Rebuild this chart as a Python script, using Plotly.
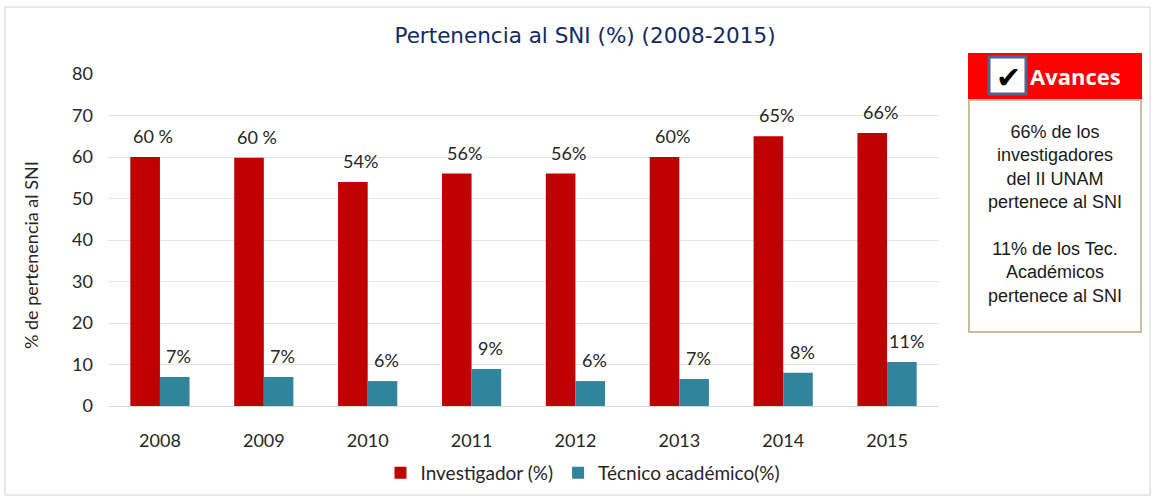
import plotly.graph_objects as go

years = ["2008", "2009", "2010", "2011", "2012", "2013", "2014", "2015"]
investigador = [60, 59.8, 54, 56, 56, 60, 65, 65.8]
tecnico = [7, 7, 6, 8.9, 6, 6.5, 8, 10.6]
inv_labels = ["60 %", "60 %", "54%", "56%", "56%", "60%", "65%", "66%"]
tec_labels = ["7%", "7%", "6%", "9%", "6%", "7%", "8%", "11%"]
y_ticks = [0, 10, 20, 30, 40, 50, 60, 70, 80]

RED = "#C00000"
TEAL = "#31849B"
FONT = "Lato, 'Open Sans', sans-serif"
TXT = "#262626"

fig = go.Figure()
fig.add_trace(go.Bar(x=years, y=investigador, name="Investigador (%)",
                     marker=dict(color=RED, line=dict(width=0))))
fig.add_trace(go.Bar(x=years, y=tecnico, name="Técnico académico(%)",
                     marker=dict(color=TEAL, line=dict(width=0))))

annotations = []
for i, yr in enumerate(years):
    annotations.append(dict(x=i, y=investigador[i], text=inv_labels[i], showarrow=False,
                            xref="x", yref="y", xshift=-7, yshift=21,
                            font=dict(size=18, color=TXT, family=FONT)))
    annotations.append(dict(x=i, y=tecnico[i], text=tec_labels[i], showarrow=False,
                            xref="x", yref="y", xshift=19, yshift=21,
                            font=dict(size=18, color=TXT, family=FONT)))

PW = 831.0
PH = 332.0
def px(x):
    return (x - 108) / PW
def py(y):
    return (406 - y) / PH

# y-axis title as annotation for exact placement
annotations.append(dict(xref="paper", yref="paper", x=px(31), y=py(255), xanchor="center", yanchor="middle",
                        text="% de pertenencia al SNI", textangle=-90, showarrow=False,
                        font=dict(size=18, color=TXT, family=FONT)))

# Side box texts
annotations.append(dict(xref="paper", yref="paper", x=px(1075), y=py(76), xanchor="center", yanchor="middle",
                        text="<b>Avances</b>", showarrow=False,
                        font=dict(size=22, color="white", family="'Open Sans', sans-serif")))
annotations.append(dict(xref="paper", yref="paper", x=px(1008), y=py(77), xanchor="center", yanchor="middle",
                        text="✔", showarrow=False,
                        font=dict(size=30, color="black", family="DejaVu Sans")))
annotations.append(dict(xref="paper", yref="paper", x=px(1055), y=py(214), xanchor="center", yanchor="middle",
                        text="66% de los<br>investigadores<br>del II UNAM<br>pertenece al SNI<br><br>11% de los Tec.<br>Académicos<br>pertenece al SNI",
                        showarrow=False, align="center",
                        font=dict(size=18, color="#1a1a1a", family="Liberation Sans, Arial, sans-serif")))

shapes = [
    # outer border
    dict(type="rect", xref="paper", yref="paper", x0=px(5), x1=px(1150), y0=py(495), y1=py(7),
         line=dict(color="#D0D0D0", width=1), fillcolor="rgba(0,0,0,0)", layer="below"),
    # red header
    dict(type="rect", xref="paper", yref="paper", x0=px(968), x1=px(1142), y0=py(100), y1=py(53),
         line=dict(width=0), fillcolor="#FF0000"),
    # box border
    dict(type="rect", xref="paper", yref="paper", x0=px(969), x1=px(1141), y0=py(332), y1=py(100),
         line=dict(color="#C9BE98", width=2), fillcolor="white"),
    # checkbox
    dict(type="rect", xref="paper", yref="paper", x0=px(989), x1=px(1026), y0=py(94), y1=py(57),
         line=dict(color="#4A6694", width=3), fillcolor="white"),
]

fig.update_layout(
    width=1155, height=499,
    margin=dict(l=108, r=216, t=74, b=93, autoexpand=False),
    paper_bgcolor="white", plot_bgcolor="white",
    barmode="group", bargap=0.43, bargroupgap=0,
    title=dict(text="Pertenencia al SNI (%) (2008-2015)", x=px(585), xref="paper", xanchor="center",
               y=1 - 35 / 499, yanchor="middle",
               font=dict(size=21.5, color="#132A63", family="'DejaVu Sans', Verdana, sans-serif")),
    font=dict(family=FONT, color=TXT),
    showlegend=True,
    legend=dict(orientation="h", x=px(583), xanchor="center", y=py(473), yanchor="middle",
                font=dict(size=19, color=TXT, family=FONT),
                traceorder="normal"),
    xaxis=dict(type="category", range=[-0.5, len(years) - 0.5], showgrid=False, showline=True,
               linecolor="#D9D9D9", linewidth=1,
               tickfont=dict(size=18, color=TXT, family=FONT), ticks="",
               ticklabelstandoff=18, automargin=False),
    yaxis=dict(range=[0, 80], tickvals=y_ticks, showgrid=True, gridcolor="#E5E5E5", gridwidth=1,
               zeroline=False, showline=False, ticks="", automargin=False,
               tickfont=dict(size=18, color=TXT, family=FONT), ticklabelstandoff=14),
    annotations=annotations,
    shapes=shapes,
)

fig.write_html("out.html", config={"displayModeBar": False},
               post_script="document.body.style.margin='0';document.body.style.overflow='hidden';")
